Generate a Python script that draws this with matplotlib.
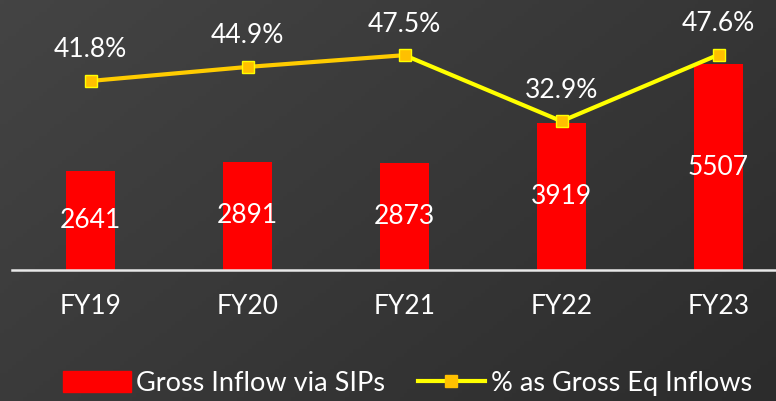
import matplotlib.pyplot as plt
import numpy as np

years = ['FY19', 'FY20', 'FY21', 'FY22', 'FY23']
sip_inflow = [2641, 2891, 2873, 3919, 5507]
pct_eq = [41.8, 44.9, 47.5, 32.9, 47.6]

plt.rcParams['font.family'] = ['Lato', 'DejaVu Sans']

fig = plt.figure(figsize=(7.76, 4.01), dpi=100)

# dark diagonal gradient background
bg = fig.add_axes([0, 0, 1, 1])
gx, gy = np.meshgrid(np.linspace(0, 1, 200), np.linspace(0, 1, 100))
shade = (0x44 - 0x18 * (0.6 * gx + 0.4 * gy)) / 255
bg.imshow(np.dstack([shade, shade, shade]), aspect='auto', extent=[0, 1, 0, 1])
bg.axis('off')

ax = fig.add_axes([12 / 776, 131 / 401, 764 / 776, 270 / 401])
ax.patch.set_alpha(0)
x = np.arange(len(years))
bars = ax.bar(x, sip_inflow, width=0.31, color='#FF0000', zorder=2)
ax.set_xlim(-0.5, -0.5 + 764 / 157)
ax.set_ylim(0, 7220)
for b, v in zip(bars, sip_inflow):
    ax.text(b.get_x() + b.get_width() / 2, v / 2, str(v), ha='center', va='center',
            color='white', fontsize=19)

for s in ['top', 'right', 'left']:
    ax.spines[s].set_visible(False)
ax.spines['bottom'].set_color('#e8e8e8')
ax.spines['bottom'].set_linewidth(1.8)
ax.set_yticks([])
ax.set_xticks(x)
ax.set_xticklabels(years, color='white', fontsize=19)
ax.tick_params(axis='x', length=0, pad=17)

ax2 = ax.twinx()
ax2.set_ylim(0, 59.7)
ax2.set_yticks([])
for s in ax2.spines.values():
    s.set_visible(False)
ax2.plot(x[2:], pct_eq[2:], color='#FFFF00', lw=3, zorder=3)
ax2.plot(x[:3], pct_eq[:3], color='#FFCC00', lw=3, zorder=3)
ax2.plot(x, pct_eq, ls='none', marker='s', ms=9, mfc='#FFC000', mec='#FFFF00', mew=1, zorder=4)
for xi, v in zip(x, pct_eq):
    ax2.annotate(f'{v}%', (xi, v), xytext=(0, 31), textcoords='offset pixels',
                 ha='center', va='center', color='white', fontsize=19)

h1 = plt.Rectangle((0, 0), 1, 1, color='#FF0000')
h2, = ax2.plot([], [], color='#FFFF00', lw=3, marker='s', ms=9, mfc='#FFC000', mec='#FFC000')
fig.legend([h1, h2], ['Gross Inflow via SIPs', '% as Gross Eq Inflows'], loc='center',
           bbox_to_anchor=(0.525, 0.043), ncol=2, frameon=False, fontsize=19.5,
           labelcolor='white', handlelength=2.5, handleheight=0.8, handletextpad=0.2,
           columnspacing=1.2)

fig.savefig('out.png', dpi=100)
